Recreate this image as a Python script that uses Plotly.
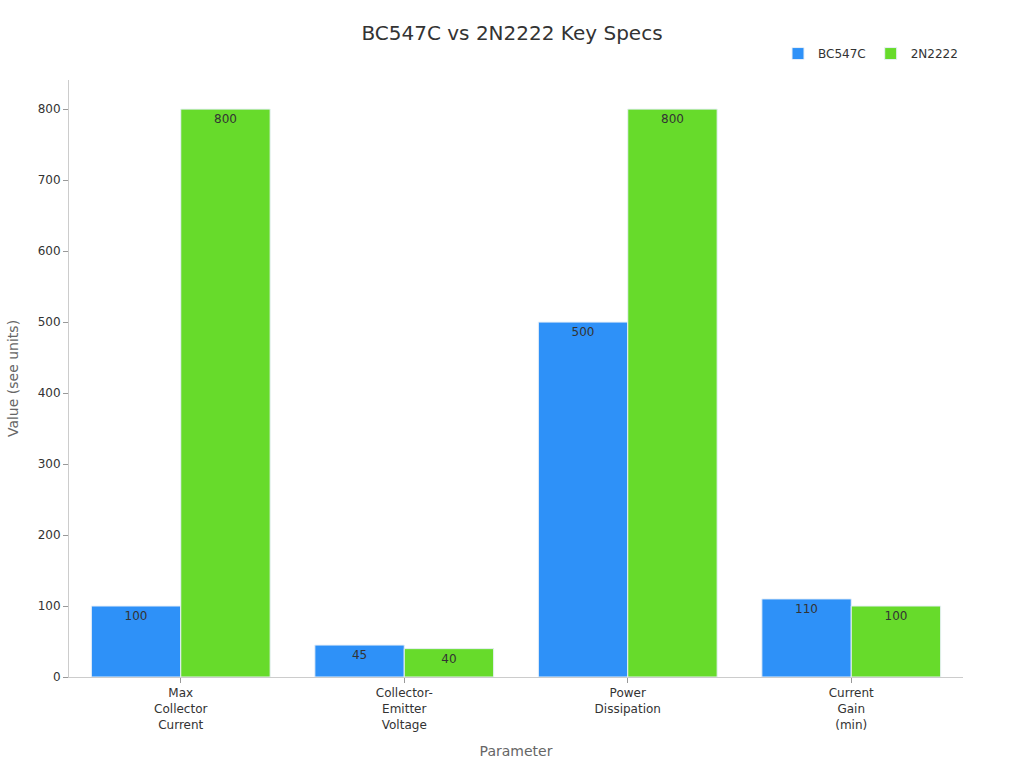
import plotly.graph_objects as go

categories = ["Max<br>Collector<br>Current", "Collector-<br>Emitter<br>Voltage", "Power<br>Dissipation", "Current<br>Gain<br>(min)"]
bc547c = [100, 45, 500, 110]
n2222 = [800, 40, 800, 100]

fig = go.Figure()
fig.add_trace(go.Bar(name="BC547C", x=categories, y=bc547c, text=bc547c,
                     textposition="inside", insidetextanchor="end",
                     marker=dict(color="#2E91F8", line=dict(color="#E8F0F8", width=1)),
                     textfont=dict(color="#333333", size=12)))
fig.add_trace(go.Bar(name="2N2222", x=categories, y=n2222, text=n2222,
                     textposition="inside", insidetextanchor="end",
                     marker=dict(color="#67DB2B", line=dict(color="#E8F0F8", width=1)),
                     textfont=dict(color="#333333", size=12)))

fig.update_layout(
    width=1024, height=768,
    font=dict(family="DejaVu Sans", color="#333333", size=12),
    title=dict(text="BC547C vs 2N2222 Key Specs", x=0.5, xanchor="center", y=0.957, yanchor="middle",
               font=dict(size=20, color="#333333")),
    barmode="group", bargap=0.2, bargroupgap=0,
    plot_bgcolor="white", paper_bgcolor="white",
    margin=dict(l=69, r=61, t=80, b=91),
    legend=dict(orientation="h", x=1, xanchor="right", y=1.02, yanchor="bottom",
                font=dict(size=12)),
    uniformtext=dict(mode="show", minsize=12),
    xaxis=dict(title=dict(text="Parameter", font=dict(size=14, color="#666666"), standoff=15),
               showline=True, linecolor="#cccccc", ticks="outside", tickcolor="#999999", ticklen=5,
               showgrid=False),
    yaxis=dict(title=dict(text="Value (see units)", font=dict(size=14, color="#666666")),
               range=[0, 841], showline=True, linecolor="#cccccc", ticks="outside",
               tickcolor="#999999", ticklen=5, showgrid=False, zeroline=False, dtick=100),
)

fig.write_html("out.html")
